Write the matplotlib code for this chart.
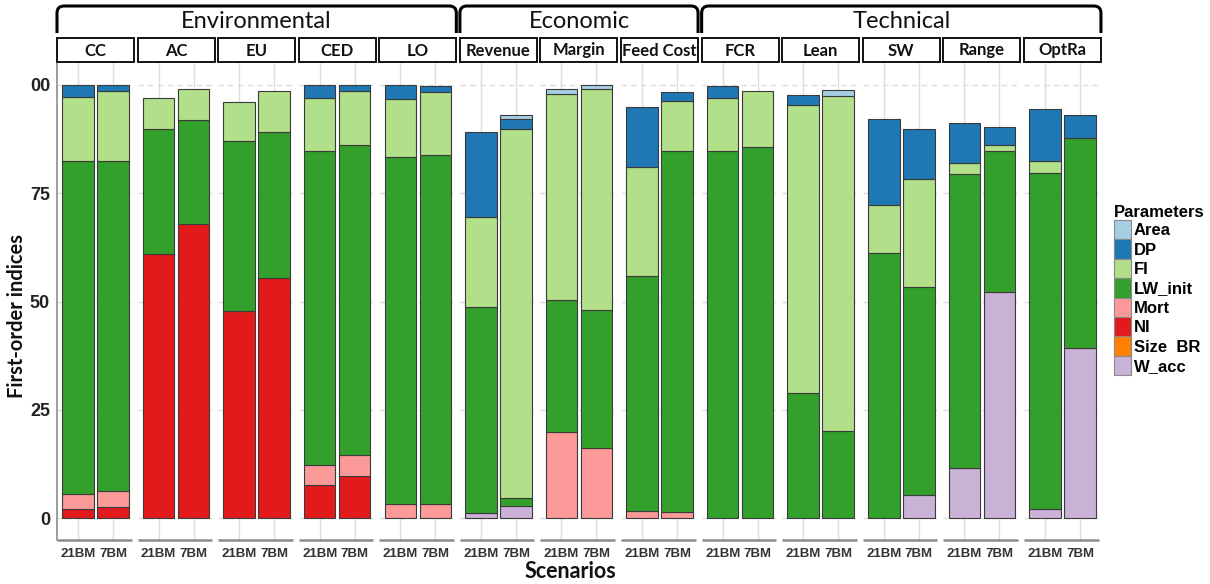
import matplotlib
matplotlib.use("Agg")
import matplotlib.pyplot as plt
from matplotlib.patches import Rectangle, Patch
from matplotlib.path import Path
from matplotlib.patches import PathPatch
import numpy as np

# ---------------- data ----------------
facets = ["CC", "AC", "EU", "CED", "LO", "Revenue", "Margin", "Feed Cost",
          "FCR", "Lean", "SW", "Range", "OptRa"]
scenarios = ["21BM", "7BM"]
groups = [("Environmental", 0, 4), ("Economic", 5, 7), ("Technical", 8, 12)]
y_ticks = [0, 25, 50, 75, 100]
y_tick_labels = ["0", "25", "50", "75", "00"]

params = ["Area", "DP", "FI", "LW_init", "Mort", "NI", "Size  BR", "W_acc"]
colors = ["#A6CEE3", "#1F78B4", "#B2DF8A", "#33A02C", "#FB9A99", "#E31A1C",
          "#FF7F00", "#CAB2D6"]

# values ordered: (facet, 21BM), (facet, 7BM) for each facet
W_acc   = [0, 0,  0, 0,  0, 0,  0, 0,  0, 0,  1.3, 2.9,  0, 0,  0, 0,  0, 0,  0, 0,  0, 5.3,  11.7, 52.3,  2.1, 39.2]
Size_BR = [0, 0,  0, 0,  0, 0,  0, 0,  0, 0,  0, 0,  0, 0,  0, 0,  0, 0,  0, 0,  0, 0,  0, 0,  0, 0]
NI      = [2.1, 2.5,  60.9, 67.9,  47.8, 55.5,  7.6, 9.7,  0, 0,  0, 0,  0, 0,  0, 0,  0, 0,  0, 0,  0, 0,  0, 0,  0, 0]
Mort    = [3.6, 3.8,  0, 0,  0, 0,  4.7, 4.8,  3.2, 3.2,  0, 0,  19.8, 16.2,  1.7, 1.5,  0, 0,  0, 0,  0, 0,  0, 0,  0, 0]
LW_init = [76.8, 76.2,  28.8, 24.0,  39.3, 33.6,  72.5, 71.5,  80.1, 80.5,  47.4, 1.7,  30.5, 31.8,  54.2, 83.3,
           84.8, 85.6,  28.8, 20.1,  61.1, 48.1,  67.8, 32.3,  77.5, 48.5]
FI      = [14.6, 16.0,  7.2, 7.1,  9.0, 9.4,  12.2, 12.6,  13.5, 14.7,  20.7, 85.2,  47.6, 50.9,  25.1, 11.5,
           12.1, 12.9,  66.5, 77.4,  11.2, 24.8,  2.5, 1.6,  2.7, 0]
DP      = [2.9, 1.4,  0, 0,  0, 0,  3.0, 1.4,  3.2, 1.4,  19.6, 2.3,  0, 0,  13.9, 1.9,
           2.9, 0,  2.3, 0,  19.7, 11.6,  9.2, 4.0,  12.0, 5.4]
Area    = [0, 0,  0, 0,  0, 0,  0, 0,  0, 0,  0, 0.8,  1.1, 1.1,  0, 0,  0, 0,  0, 1.3,  0, 0,  0, 0,  0, 0]

# stacking order bottom -> top
stack = [("W_acc", W_acc), ("Size  BR", Size_BR), ("NI", NI), ("Mort", Mort),
         ("LW_init", LW_init), ("FI", FI), ("DP", DP), ("Area", Area)]
col_of = dict(zip(params, colors))

# ---------------- layout (pixels) ----------------
W, H = 1210, 584
fig = plt.figure(figsize=(W / 100, H / 100), dpi=100)
panel_x0, panel_w, gap = 57, 77, 3.58
panel_top, panel_bot = 63, 540
strip_top, strip_bot = 38, 62

grid_col = "#DEDEDE"
axis_col = "#8C8C8C"
tick_font = "Liberation Sans"
title_font = "Lato"

panel_lefts = []
for i, f in enumerate(facets):
    xl = panel_x0 + i * (panel_w + gap)
    panel_lefts.append(xl)
    ax = fig.add_axes([xl / W, 1 - panel_bot / H, panel_w / W, (panel_bot - panel_top) / H])
    xs = np.arange(1, len(scenarios) + 1)
    bottoms = np.zeros(len(scenarios))
    for name, vals in stack:
        v = np.array(vals[2 * i:2 * i + 2], dtype=float)
        for j in range(len(scenarios)):
            if v[j] > 0:
                ax.bar(xs[j], v[j], bottom=bottoms[j], width=0.9, color=col_of[name],
                       edgecolor="#3A3A3A", linewidth=0.8, zorder=3)
        bottoms = bottoms + v
    ax.set_xlim(0.4, 2.6)
    ax.set_ylim(-5, 105)
    ax.set_xticks(xs)
    ax.set_xticklabels(scenarios, fontsize=9.5, fontweight="bold", family=tick_font, color="#333333")
    ax.set_yticks(y_ticks)
    if i == 0:
        ax.set_yticklabels(y_tick_labels, fontsize=13, fontweight="bold", family=tick_font, color="#222222")
    else:
        ax.set_yticklabels([])
    ax.tick_params(axis="both", length=0, pad=5)
    ax.tick_params(axis="x", pad=6)
    ax.grid(axis="y", color=grid_col, linewidth=1.0, linestyle=(0, (4, 3)), zorder=0)
    ax.grid(axis="x", color=grid_col, linewidth=1.0, zorder=0)
    for s in ["top", "right"]:
        ax.spines[s].set_visible(False)
    ax.spines["bottom"].set_color(axis_col)
    ax.spines["bottom"].set_linewidth(1.8)
    ax.spines["bottom"].set_capstyle("butt")
    ax.spines["bottom"].set_bounds(0.4, 2.6 - 0.07)
    if i == 0:
        ax.spines["left"].set_color(axis_col)
        ax.spines["left"].set_linewidth(1.2)
    else:
        ax.spines["left"].set_visible(False)
    ax.set_axisbelow(True)

# overlay for strips and group brackets
ov = fig.add_axes([0, 0, 1, 1], zorder=5)
ov.set_xlim(0, W)
ov.set_ylim(H, 0)
ov.axis("off")
ov.patch.set_alpha(0)

for i, f in enumerate(facets):
    xl = panel_lefts[i]
    ov.add_patch(Rectangle((xl, strip_top), panel_w, strip_bot - strip_top, facecolor="white",
                           edgecolor="#111111", linewidth=1.4))
    ov.text(xl + panel_w / 2, (strip_top + strip_bot) / 2 + 0.5, f, ha="center", va="center",
            fontsize=12, fontweight="bold", family=title_font, color="#111111")

for gname, a, b in groups:
    x1 = panel_lefts[a]
    x2 = panel_lefts[b] + panel_w
    yt, yb, r = 6, 33, 7
    verts = [(x1, yb), (x1, yt + r), (x1, yt), (x1 + r, yt), (x2 - r, yt), (x2, yt), (x2, yt + r), (x2, yb)]
    codes = [Path.MOVETO, Path.LINETO, Path.CURVE3, Path.CURVE3, Path.LINETO, Path.CURVE3, Path.CURVE3, Path.LINETO]
    ov.add_patch(PathPatch(Path(verts, codes), facecolor="none", edgecolor="black", linewidth=2.2,
                           capstyle="butt"))
    ov.text((x1 + x2) / 2, 22, gname, ha="center", va="center", fontsize=17, family=title_font,
            color="#111111")

# axis titles
fig.text(17 / W, 1 - 316 / H, "First-order indices", rotation=90, ha="center", va="center",
         fontsize=14.5, fontweight="bold", family=title_font, color="#111111")
fig.text(570 / W, 1 - 572 / H, "Scenarios", ha="center", va="center",
         fontsize=15.5, fontweight="bold", family=title_font, color="#111111")

# legend
handles = [Patch(facecolor=c, edgecolor="#8A8A8A", linewidth=0.8) for c in colors]
leg = fig.legend(handles, params, loc="upper left", bbox_to_anchor=(1114 / W, 1 - 205 / H),
                 frameon=False, title="Parameters",
                 prop={"family": tick_font, "weight": "bold", "size": 12},
                 title_fontproperties={"family": tick_font, "weight": "bold", "size": 12},
                 handlelength=1.02, handleheight=1.414, labelspacing=0.0, handletextpad=0.18,
                 borderaxespad=0, borderpad=0.0)
leg._legend_box.align = "left"

fig.savefig("out.png", dpi=100)
